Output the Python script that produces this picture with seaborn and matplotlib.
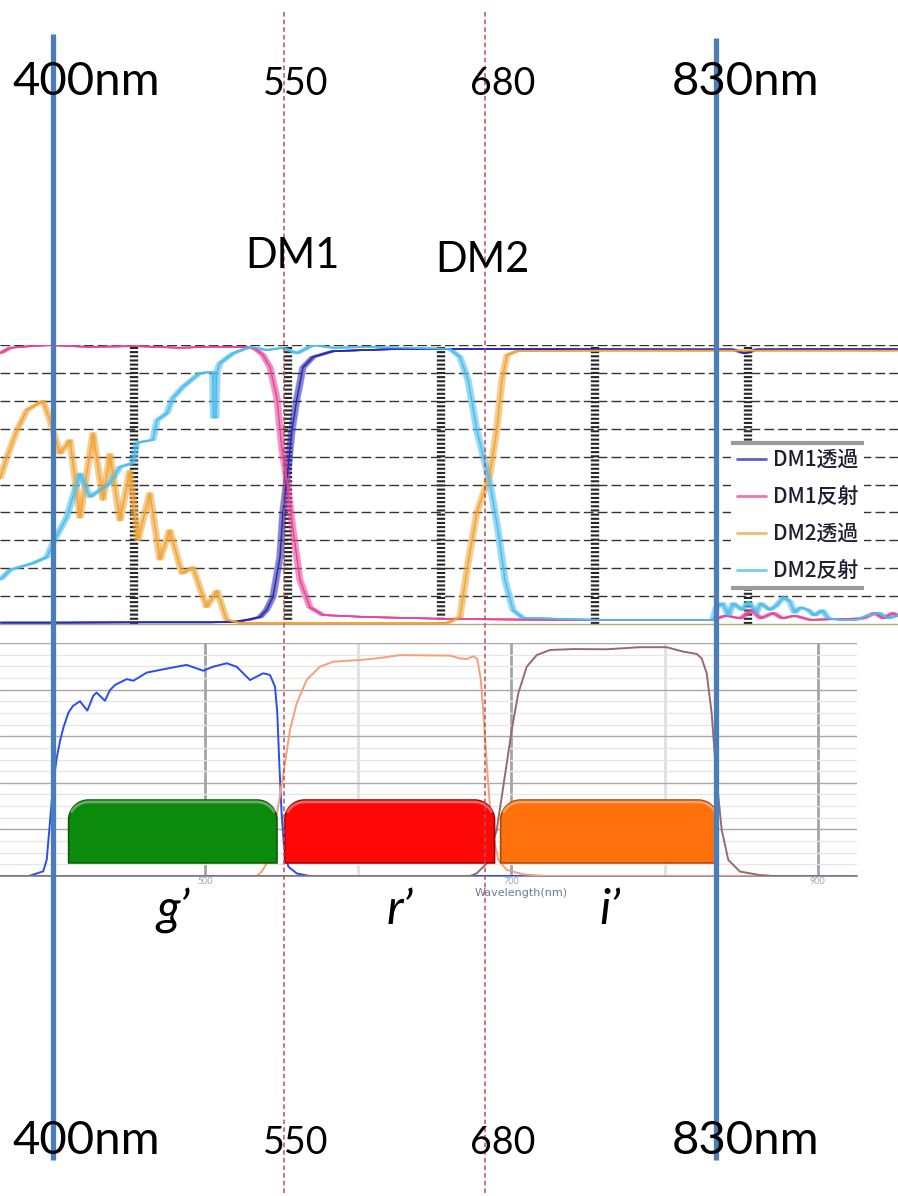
import numpy as np
import pandas as pd
import seaborn as sns
import matplotlib
matplotlib.use("Agg")
import matplotlib.pyplot as plt
from matplotlib.transforms import ScaledTranslation
from matplotlib.patches import Polygon

# ---- dichroic mirror curves (top panel), wavelength nm / percent ----
dm1_t_nm = [362.4, 400, 450, 500, 515.5, 524, 531.8, 536, 540.2, 544.8, 546.7, 549.3, 552.6,
            555.9, 559.8, 566.3, 579.3, 623, 700, 800, 840, 847.7, 855, 900, 947]
dm1_t_val = [0.5, 0.5, 0.6, 0.6, 0.8, 1.5, 2.5, 5, 9.7, 24, 40, 51.6, 69.5,
             81, 92, 95.7, 97.8, 98.6, 98.6, 98.4, 98.4, 97, 98.4, 98.5, 98.5]

dm1_r_nm = [362.4, 369, 380, 395, 420, 450, 480, 500, 525.2, 529, 533.7, 538.3, 542.8, 546,
            549.3, 553.3, 557.8, 564.3, 572.8, 601.5, 655.5, 720, 800, 827,
            835, 845, 852, 858, 866, 872, 880, 890, 925, 932, 938, 944, 947]
dm1_r_val = [97, 99, 99.5, 100, 99.3, 99.6, 99, 99.4, 99.2, 98.5, 96.4, 92, 81, 63,
             51.6, 33.7, 15.8, 6, 3.2, 2.5, 1.8, 1.5, 1.5, 1.5,
             3, 2, 5, 2, 4, 2, 3, 1.5, 2, 4, 2, 4, 3]

dm2_t_nm = [362.4, 367, 373.5, 380, 390.4, 395, 401.5, 408, 414.5, 423, 429.5, 434, 440.6,
            447, 452.3, 460, 466.6, 473, 481, 488, 497, 503.7, 510, 518.7, 600, 653.6,
            662, 667.3, 673, 681.6, 686, 689.4, 692.7, 699.2, 750, 850, 947]
dm2_t_val = [52, 60, 69.5, 76.7, 80, 73, 61, 66, 38, 68.5, 44.4, 61, 37,
             55, 30, 47, 23, 33.7, 18, 20.4, 6, 12, 1.5, 0.4, 0.3, 0.3,
             2.5, 21.8, 39.8, 54, 69.5, 87.5, 96.4, 97.8, 98, 98, 98]

dm2_r_nm = [362.4, 369, 383.9, 393, 396.9, 406, 414.5, 421, 427.5, 434, 440.6, 449, 451.6,
            462, 464.7, 471.2, 475, 481.6, 492.7, 501, 501.5, 503, 503.7, 505.7, 514.2,
            525.2, 536.3, 546.7, 555.9, 566.3, 579.3, 601.5, 655.5, 662, 667.3, 673,
            681.6, 686.8, 691.4, 696.6, 703, 750, 827,
            829, 833, 837, 840, 846, 850, 855, 858, 864, 868, 873, 877, 880, 884,
            889, 893, 898, 902, 910, 920, 928, 935, 941, 947]
dm2_r_val = [15.8, 19.4, 21.8, 24, 29, 38.4, 54, 45.5, 48, 50.5, 56.3, 57.7, 65,
             66, 73, 75.6, 81, 85, 90, 90.3, 74, 74, 90.3, 93.5, 97,
             99.3, 98.2, 99, 97, 100, 99, 99.3, 98.6, 95.7, 87.5, 69.5,
             50.5, 33.7, 15.8, 5, 2.2, 1.5, 1.5,
             6, 7.5, 3, 7.5, 5, 8, 4, 7.5, 5, 6.5, 9.7, 8, 4, 6,
             5, 3, 5, 2, 1.5, 1.5, 3, 4, 2, 3]

dm_names = ["DM1透過", "DM1反射", "DM2透過", "DM2反射"]
dm_colors = ["#2b2bb0", "#e6479b", "#f0a538", "#4dbdee"]

# ---- filter transmission curves (bottom panel) ----
g_nm = [366, 385, 394.4, 396.7, 398.8, 401, 403.2, 405.4, 407.5, 410.8, 413.8, 418.4, 423.2,
        427.1, 429.3, 434.7, 438, 441.3, 448.9, 453.2, 462, 475, 488, 498.9, 505.2, 514.2,
        520.7, 529.4, 538, 542.4, 545.7, 547.2, 548.5, 550, 551.6, 554.4, 559.9, 568.4, 925]
g_val = [0, 0, 2, 7, 23, 40, 50.6, 58, 63.5, 70, 73, 75, 71,
         77.4, 78.7, 75.2, 79.8, 82, 84.5, 83.8, 87.3, 89, 90.6, 88.1, 89.8, 91.3,
         89.8, 84.1, 87, 86.3, 81.3, 70, 48.5, 27, 12.6, 4, 1.1, 0, 0]

r_nm = [366, 533.7, 537, 540.3, 544.6, 548.8, 552.2, 555.5, 559.9, 566.4, 575, 583.7, 601.2,
        612, 627.3, 660, 666.4, 670.8, 675.1, 677.8, 680, 681.7, 683.9, 686, 688.2, 691.5,
        697, 707.8, 723, 925]
r_val = [0, 0, 1.9, 5.4, 16.9, 34, 48.4, 62.7, 74.2, 84.2, 89.8, 92, 92.7,
         93.4, 94.8, 94.6, 93.4, 93.1, 94.3, 93.1, 84.5, 70, 48.5, 29.8, 16.9, 6.9,
         2.6, 0.7, 0, 0]

i_nm = [366, 673, 677.3, 683.9, 690.4, 693.7, 697, 700.2, 704.5, 710, 716.5, 725.2, 740.4,
        762.2, 783.9, 801.3, 812.2, 821, 824.2, 827.5, 830.7, 834, 837.3, 841.6, 849.2,
        862.3, 871, 925]
i_val = [0, 0, 1.1, 5.4, 19.7, 34, 48.4, 62.7, 78.4, 89.8, 94.8, 97, 97.4,
         97.3, 98.2, 98.2, 96.3, 95.3, 93.4, 87, 70, 41.2, 19.7, 6.9, 1.9,
         0.4, 0, 0]

filter_colors = ["#2a4cf0", "#f4a07a", "#9a6a6a"]

# bands drawn as coloured blocks
band_names = ["g’", "r’", "i’"]
band_lo = [411, 552, 693]
band_hi = [547, 689, 835]
band_colors = ["#0c8a0c", "#fe0808", "#ff710c"]
band_edges = ["#0a5a0a", "#a00000", "#b04a00"]

# marker lines across the whole slide
marker_nm = [400, 550, 680, 830]
marker_txt = ["400nm", "550", "680", "830nm"]
dm_label = ["DM1", "DM2"]

sns.set_style("white")
plt.rcParams["font.family"] = ["Lato", "Noto Sans CJK JP", "DejaVu Sans"]

W, H = 898, 1196
fig = plt.figure(figsize=(W / 100, H / 100), dpi=100)

# ---------- top panel ----------
ax_t = fig.add_axes([0, 1 - 624 / H, 1, (624 - 345) / H])
rows = []
for name, xs, ys in zip(dm_names, [dm1_t_nm, dm1_r_nm, dm2_t_nm, dm2_r_nm],
                        [dm1_t_val, dm1_r_val, dm2_t_val, dm2_r_val]):
    rows.append(pd.DataFrame({"nm": xs, "val": ys, "series": name}))
top_df = pd.concat(rows, ignore_index=True)

# smear horizontally (the source picture was stretched sideways)
for name, col in zip(dm_names, dm_colors):
    d = top_df[top_df["series"] == name]
    for dx in [-3, -2, -1, 1, 2, 3]:
        tr = ax_t.transData + ScaledTranslation(dx / 100, 0, fig.dpi_scale_trans)
        ax_t.plot(d["nm"], d["val"], color=col, lw=1.1, alpha=0.45, transform=tr,
                  solid_capstyle="butt", zorder=3)
sns.lineplot(data=top_df, x="nm", y="val", hue="series", palette=dm_colors,
             estimator=None, sort=False, lw=1.2, ax=ax_t, zorder=4)

ax_t.set_xlim(362.4, 947.4)
ax_t.set_ylim(0, 100)
ax_t.set_xticks([450, 550, 650, 750, 850])
ax_t.set_yticks(range(10, 101, 10))
ax_t.set_axisbelow(True)
ax_t.grid(axis="x", color="#262626", lw=6, linestyle=(0, (0.25, 0.25)))
ax_t.grid(axis="y", color="#333333", lw=1, linestyle=(0, (7, 3)))
ax_t.tick_params(length=0, labelleft=False, labelbottom=False)
ax_t.set_xlabel("")
ax_t.set_ylabel("")
for s in ["left", "right", "top"]:
    ax_t.spines[s].set_visible(False)
ax_t.spines["bottom"].set_color("#b8a888")
ax_t.spines["bottom"].set_linewidth(1)
ax_t.patch.set_alpha(0)

handles, labels = ax_t.get_legend_handles_labels()
leg = ax_t.legend(handles[-4:], labels[-4:], loc="upper left",
                  bbox_to_anchor=(731 / W, 1 - 443 / H), bbox_transform=fig.transFigure,
                  borderaxespad=0, borderpad=0.3, frameon=True, fancybox=False,
                  facecolor="white", edgecolor="none", framealpha=1,
                  handlelength=1.4, handletextpad=0.3, labelspacing=0.72,
                  prop={"family": ["Noto Sans CJK JP"], "size": 15, "weight": "medium"})
for ln in leg.get_lines():
    ln.set_linewidth(2)
    ln.set_alpha(0.75)
for t in leg.get_texts():
    t.set_color("#1e1e30")
leg.set_zorder(6)

# ---------- bottom panel ----------
ax_b = fig.add_axes([0, 1 - 876 / H, 857 / W, 233 / H])
frows = []
for name, xs, ys in zip(band_names, [g_nm, r_nm, i_nm], [g_val, r_val, i_val]):
    frows.append(pd.DataFrame({"nm": xs, "val": ys, "filter": name}))
bot_df = pd.concat(frows, ignore_index=True)
sns.lineplot(data=bot_df, x="nm", y="val", hue="filter", palette=filter_colors,
             estimator=None, sort=False, lw=1.4, ax=ax_b, legend=False, zorder=3)
ax_b.set_xlim(366.2, 925.6)
ax_b.set_ylim(0, 100)
ax_b.set_xticks([500, 700, 900])
ax_b.set_xticks([600, 800], minor=True)
ax_b.set_yticks(range(0, 101, 20))
ax_b.set_yticks(range(0, 101, 5), minor=True)
ax_b.set_axisbelow(True)
ax_b.grid(axis="x", which="major", color="#a4a4a4", lw=2)
ax_b.grid(axis="x", which="minor", color="#e0e0e0", lw=2)
ax_b.grid(axis="y", which="major", color="#a8a8a8", lw=1)
ax_b.grid(axis="y", which="minor", color="#e6e6e6", lw=1)
ax_b.tick_params(which="both", length=0, labelleft=False, labelsize=6.5,
                 labelcolor="#9aa4ba", pad=1)
ax_b.set_ylabel("")
ax_b.set_xlabel("Wavelength(nm)", fontsize=8, color="#6a7a9a", family="DejaVu Sans")
ax_b.xaxis.set_label_coords(521 / 857, -0.05)
for s in ["left", "right", "top"]:
    ax_b.spines[s].set_visible(False)
ax_b.spines["bottom"].set_color("#7080a0")
ax_b.spines["bottom"].set_linewidth(1.2)
ax_b.patch.set_alpha(0)

rx, ry = 13, 8.6
t = np.linspace(0, np.pi / 2, 24)
for name, lo, hi, fc, ec in zip(band_names, band_lo, band_hi, band_colors, band_edges):
    y0, y1 = 5.6, 32.6
    lx = (lo + rx) - rx * np.cos(t)
    ly = (y1 - ry) + ry * np.sin(t)
    rxs = (hi - rx) + rx * np.sin(t)
    rys = (y1 - ry) + ry * np.cos(t)
    pts = [(lo, y0)] + list(zip(lx, ly)) + list(zip(rxs, rys)) + [(hi, y0)]
    ax_b.add_patch(Polygon(pts, closed=True, facecolor=fc, edgecolor=ec, lw=1.2, zorder=5))
    # soft highlight along the top edge
    ax_b.plot(list(lx[8:]) + list(rxs[:16]), [v - 0.8 for v in list(ly[8:]) + list(rys[:16])],
              color="white", alpha=0.35, lw=2, zorder=6)
    ax_b.text((lo + hi) / 2 + (7 if name == "r’" else 0), -20.6, name, ha="center",
              va="baseline", fontsize=35, style="italic", color="black", clip_on=False)

# ---------- overlay: marker lines and labels ----------
ov = fig.add_axes([0, 0, 1, 1], zorder=10)
ov.set_xlim(365.6, 948.0)
ov.set_ylim(H, 0)
ov.axis("off")
ov.patch.set_alpha(0)

for nm, txt in zip(marker_nm, marker_txt):
    if txt.endswith("nm"):
        ov.vlines(nm, 34 if nm < 500 else 38, 1160, color="#4a7ebb", lw=3.8)
        size, dx = 34, (33 if nm < 500 else 30)
    else:
        ov.vlines(nm, 12, H, color="#c0504d", lw=1.1, linestyles=(0, (3, 2)))
        size, dx = 27, (11 if nm < 600 else 18)
    for base in [95, 1154]:
        ov.annotate(txt, xy=(nm, base), xytext=(dx, 0), textcoords="offset pixels",
                    ha="center", va="baseline", fontsize=size, color="black")

for nm, txt, dx, base in zip(marker_nm[1:3], dm_label, [8, -2], [268, 272]):
    ov.annotate(txt, xy=(nm, base), xytext=(dx, 0), textcoords="offset pixels",
                ha="center", va="baseline", fontsize=30, color="black")

# grey bars above and below the legend
fig.canvas.draw()
bb = leg.get_window_extent()
inv = ov.transData.inverted()
(lx0, ly_top), (lx1, ly_bot) = inv.transform([(bb.x0, bb.y1), (bb.x1, bb.y0)])
ov.hlines([ly_top, ly_bot], lx0, lx1, color="#9a9a9a", lw=3)

fig.savefig("out.png", dpi=100)
